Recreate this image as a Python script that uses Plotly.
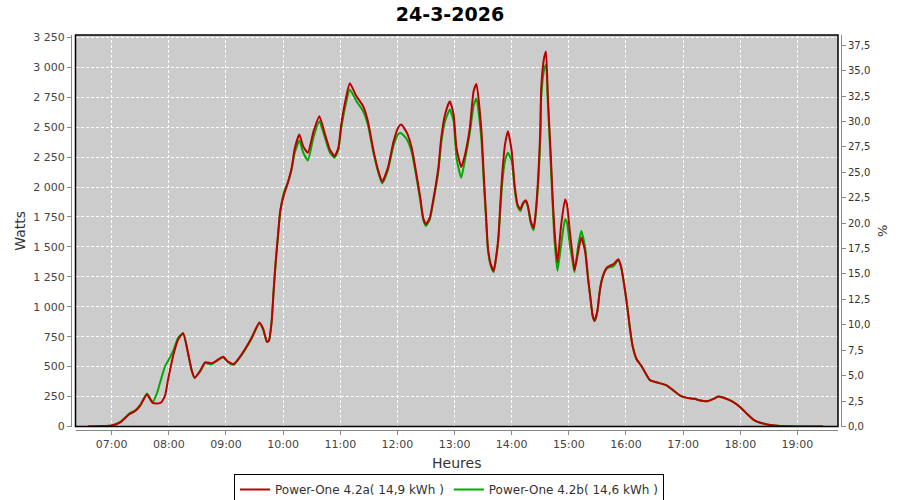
import plotly.graph_objects as go

DAY = "2026-03-24"
TIMES = ["06:35","06:48","07:00","07:09","07:19","07:24","07:30","07:37","07:43","07:48","07:52","07:56","07:59",
         "08:05","08:10","08:15","08:20","08:24","08:27","08:33","08:38","08:45","08:50","08:57","09:02","09:08",
         "09:13","09:20","09:27","09:35","09:39","09:43","09:45","09:48","09:50","09:52","09:55","09:57","10:01",
         "10:05","10:09","10:12","10:17","10:21","10:26","10:32","10:38","10:44","10:49","10:54","10:58","11:01",
         "11:06","11:10","11:17","11:24","11:29","11:35","11:40","11:44","11:50","11:56","12:01","12:04","12:10",
         "12:15","12:20","12:24","12:27","12:30","12:34","12:38","12:43","12:46","12:50","12:55","12:59","13:02",
         "13:07","13:11","13:16","13:20","13:23","13:28","13:31","13:33","13:35","13:38","13:41","13:43","13:46",
         "13:48","13:50","13:53","13:56","14:00","14:03","14:06","14:09","14:12","14:15","14:17","14:20","14:23",
         "14:25","14:28","14:30","14:31","14:34","14:36","14:38","14:41","14:43","14:45","14:48","14:52","14:56",
         "14:58","15:01","15:05","15:06","15:10","15:13","15:17","15:20","15:23","15:25","15:27","15:30","15:32",
         "15:34","15:37","15:40","15:43","15:47","15:52","15:55","15:58","16:01","16:04","16:07","16:11","16:16",
         "16:20","16:25","16:32","16:43","16:50","16:57","17:04","17:12","17:18","17:25","17:32","17:37","17:44",
         "17:51","18:00","18:07","18:14","18:21","18:28","18:36","18:49","19:27"]
POWER_A = [0,3,8,35,105,125,175,267,197,192,200,258,383,
           605,730,778,620,467,405,467,536,528,550,583,542,522,
           564,647,744,869,817,710,717,883,1133,1356,1633,1800,1939,
           2036,2161,2314,2439,2342,2286,2467,2592,2439,2314,2258,2328,2522,
           2744,2867,2758,2675,2550,2300,2133,2044,2161,2383,2500,2522,2453,
           2328,2106,1911,1744,1689,1744,1911,2161,2411,2606,2717,2606,2328,
           2167,2272,2494,2800,2861,2494,2050,1772,1494,1356,1300,1383,1578,
           1856,2106,2356,2467,2300,2022,1856,1814,1869,1889,1842,1717,1656,
           1772,2106,2467,2828,3078,3133,2744,2272,1911,1633,1370,1689,1897,
           1856,1633,1356,1306,1467,1578,1467,1244,1050,925,883,967,1106,
           1203,1286,1328,1342,1356,1397,1328,1189,1022,828,670,564,508,
           453,389,369,342,300,258,239,231,217,211,231,250,236,
           211,161,106,56,31,17,8,2,0]
POWER_B = [0,3,8,38,112,130,180,275,205,290,400,505,545,
           640,744,778,620,470,410,460,530,520,545,578,540,515,
           560,640,735,860,810,705,715,880,1130,1350,1630,1800,1960,
           2040,2150,2280,2389,2290,2222,2420,2550,2410,2290,2245,2310,2490,
           2700,2815,2717,2633,2520,2280,2120,2030,2140,2350,2444,2450,2397,
           2290,2080,1890,1730,1675,1730,1890,2130,2370,2550,2647,2550,2244,
           2078,2230,2450,2680,2740,2417,2000,1740,1480,1340,1290,1370,1560,
           1800,2030,2220,2286,2217,1990,1840,1800,1860,1880,1835,1700,1640,
           1750,2060,2400,2750,2980,3022,2700,2200,1850,1550,1300,1522,1731,
           1703,1522,1330,1290,1522,1633,1500,1260,1050,925,880,960,1100,
           1200,1280,1320,1330,1340,1390,1328,1189,1022,828,670,564,508,
           453,389,369,342,300,258,239,231,217,211,231,250,236,
           211,161,106,56,31,17,8,2,0]
NAME_A = "Power-One 4.2a( 14,9 kWh )"
NAME_B = "Power-One 4.2b( 14,6 kWh )"
TITLE = "24-3-2026"
Y_TITLE = "Watts"
Y2_TITLE = "%"
X_TITLE = "Heures"
Y_TICKS = list(range(0, 3251, 250))
Y2_TICKS = [i * 2.5 for i in range(16)]
X_TICKS = [f"{DAY} {h:02d}:00" for h in range(7, 20)]

xs = [f"{DAY} {t}" for t in TIMES]

FONT = "DejaVu Sans"
fig = go.Figure()
fig.add_trace(go.Scatter(x=xs, y=POWER_B, name=NAME_B, mode="lines",
                         line=dict(color="#00aa00", width=2, shape="spline", smoothing=0.5)))
fig.add_trace(go.Scatter(x=xs, y=POWER_A, name=NAME_A, mode="lines",
                         line=dict(color="#bb0000", width=2, shape="spline", smoothing=0.5)))
fig.add_trace(go.Scatter(x=[xs[0]], y=[None], yaxis="y2", showlegend=False, hoverinfo="skip"))

L, R, T, B = 70, 58, 30, 68
W, H = 900 - L - R, 500 - T - B
xd0, xd1 = (75.5 - L) / W, (838 - L) / W
yd0, yd1 = (H - (426.5 - T)) / H, (H - (35 - T)) / H

fig.update_layout(
    width=900, height=500,
    margin=dict(l=L, r=R, t=T, b=B, autoexpand=False),
    paper_bgcolor="white", plot_bgcolor="#cccccc",
    separators=", ",
    font=dict(family=FONT, size=11, color="#444444"),
    title=dict(text=f"<b>{TITLE}</b>", x=0.5, xanchor="center", y=0.972, yanchor="middle",
               font=dict(family=FONT, size=19, color="black")),
    xaxis=dict(type="date", domain=[xd0, xd1], range=[f"{DAY} 06:22", f"{DAY} 19:42:36"],
               tickvals=X_TICKS, tickformat="%H:%M", showgrid=True, gridcolor="white",
               griddash="3px,2px", gridwidth=1, anchor="free", position=(H - (430 - T)) / H,
               showline=True, linecolor="#888888", ticks="outside", ticklen=4, tickcolor="#888888",
               automargin=False,
               title=dict(text=X_TITLE, font=dict(size=14, color="#333333"), standoff=7),
               tickfont=dict(size=11, color="#444444")),
    yaxis=dict(domain=[yd0, yd1], range=[0, 3270], tickvals=Y_TICKS, tickformat=",d",
               showgrid=True, gridcolor="white", griddash="3px,2px", gridwidth=1, zeroline=False,
               anchor="free", position=(71 - L) / W, showline=True, linecolor="#888888",
               ticks="outside", ticklen=4, tickcolor="#888888", automargin=False,
               title=dict(text=Y_TITLE, font=dict(size=14, color="#333333"), standoff=3),
               tickfont=dict(size=11, color="#444444")),
    yaxis2=dict(range=[0, 38.5], tickvals=Y2_TICKS, tickformat=".1f", overlaying="y",
                side="right", anchor="free", position=(841 - L) / W, showgrid=False, zeroline=False,
                showline=True, linecolor="#888888", ticks="outside", ticklen=4, tickcolor="#888888",
                automargin=False,
                title=dict(text=Y2_TITLE, font=dict(size=13, color="#333333"), standoff=8),
                tickfont=dict(size=10, color="#333333")),
    legend=dict(orientation="h", xref="container", yref="container", x=449 / 900, xanchor="center",
                y=(500 - 474) / 500, yanchor="top",
                bordercolor="black", borderwidth=1, bgcolor="white", traceorder="reversed",
                font=dict(size=12, color="#333333"), itemwidth=30),
    showlegend=True,
)
fig.add_shape(type="rect", xref="x domain", yref="y domain", x0=0, x1=1, y0=0, y1=1,
              line=dict(color="black", width=1.5), fillcolor="rgba(0,0,0,0)", layer="above")
fig.write_html("out.html", config={"displayModeBar": False},
               post_script="document.body.style.margin='0';document.body.style.overflow='hidden';")
